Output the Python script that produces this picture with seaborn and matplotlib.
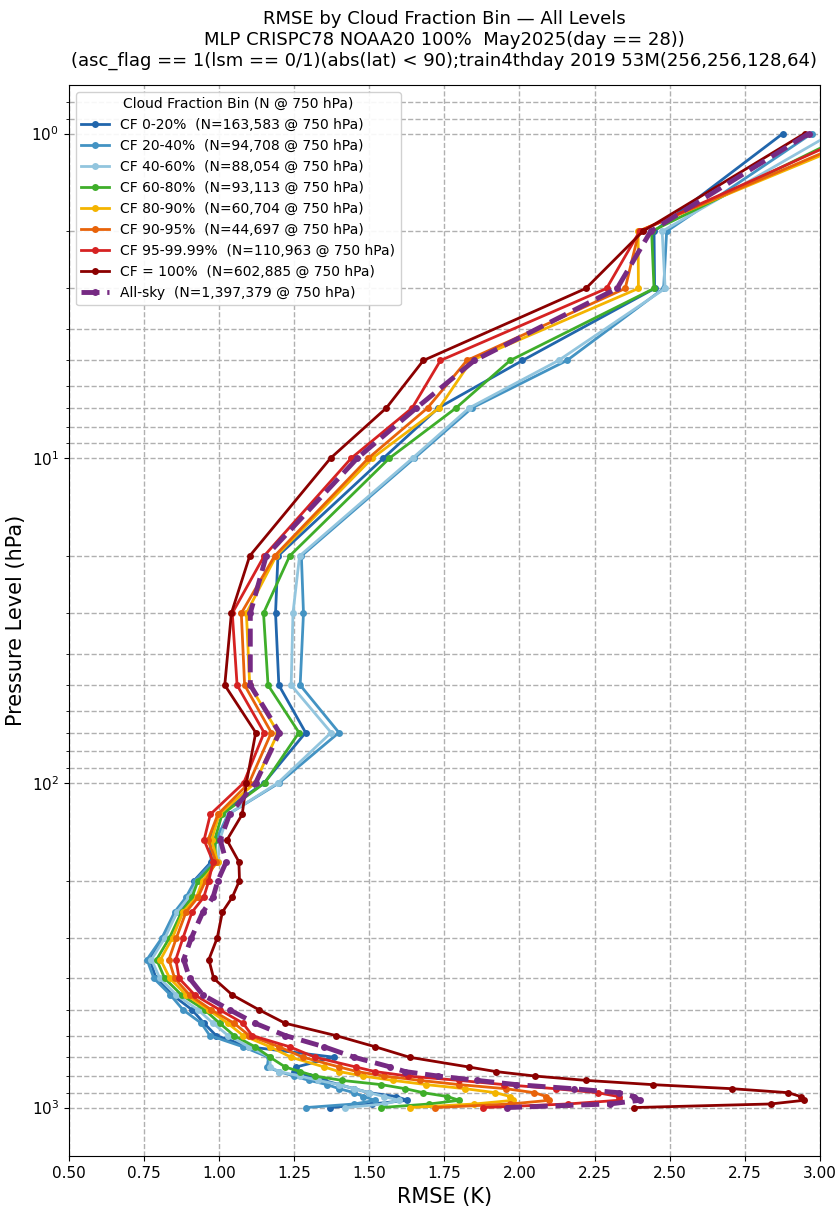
import matplotlib
matplotlib.use("Agg")
import matplotlib.pyplot as plt
import seaborn as sns
import numpy as np

plt.rcParams['font.family'] = ['DejaVu Sans']

pressure = [1, 2, 3, 5, 7, 10, 20, 30, 50, 70, 100, 125, 150, 175, 200, 225, 250,
            300, 350, 400, 450, 500, 550, 600, 650, 700, 750, 775, 800, 825, 850,
            875, 900, 925, 950, 975, 1000]

cf_0_20 = [2.877, 2.448, 2.45, 2.01, 1.73, 1.547, 1.196, 1.188, 1.199, 1.288, 1.15, 1.00, 0.97,
           0.974, 0.917, 0.913, 0.86, 0.813, 0.77, 0.79, 0.845, 0.91, 0.95, 0.99, 1.10, 1.384,
           1.257, 1.25, 1.30, 1.35, 1.40, 1.45, 1.50, 1.59, 1.627, 1.51, 1.37]
cf_20_40 = [2.973, 2.49, 2.48, 2.158, 1.842, 1.65, 1.274, 1.281, 1.27, 1.399, 1.20, 1.03, 0.99,
            0.98, 0.92, 0.89, 0.852, 0.81, 0.76, 0.783, 0.838, 0.88, 0.941, 0.969, 1.08, 1.165,
            1.16, 1.20, 1.25, 1.30, 1.36, 1.40, 1.45, 1.48, 1.52, 1.45, 1.29]
cf_40_60 = [3.04, 2.475, 2.485, 2.13, 1.833, 1.644, 1.268, 1.246, 1.24, 1.373, 1.196, 1.03, 1.002,
            0.996, 0.93, 0.90, 0.86, 0.82, 0.775, 0.803, 0.858, 0.93, 0.98, 1.03, 1.10, 1.17,
            1.17, 1.20, 1.27, 1.33, 1.40, 1.45, 1.50, 1.55, 1.60, 1.55, 1.42]
cf_60_80 = [3.10, 2.44, 2.448, 1.969, 1.789, 1.567, 1.235, 1.148, 1.163, 1.266, 1.152, 1.01, 0.985,
            0.99, 0.93, 0.91, 0.875, 0.835, 0.792, 0.819, 0.875, 0.952, 1.002, 1.05, 1.12, 1.17,
            1.22, 1.27, 1.32, 1.41, 1.54, 1.62, 1.68, 1.76, 1.80, 1.70, 1.54]
cf_80_90 = [3.18, 2.395, 2.396, 1.84, 1.733, 1.51, 1.19, 1.091, 1.102, 1.196, 1.12, 1.00, 0.975,
            0.995, 0.945, 0.925, 0.88, 0.845, 0.805, 0.836, 0.891, 0.965, 1.029, 1.08, 1.17, 1.24,
            1.35, 1.40, 1.48, 1.58, 1.69, 1.82, 1.92, 1.97, 1.98, 1.85, 1.635]
cf_90_95 = [3.16, 2.398, 2.352, 1.825, 1.694, 1.497, 1.185, 1.074, 1.085, 1.174, 1.10, 0.996, 0.963,
            0.99, 0.955, 0.93, 0.89, 0.858, 0.833, 0.852, 0.902, 0.974, 1.05, 1.10, 1.20, 1.28,
            1.40, 1.46, 1.55, 1.67, 1.80, 1.955, 2.05, 2.09, 2.10, 1.97, 1.72]
cf_95_9999 = [3.12, 2.40, 2.29, 1.737, 1.643, 1.44, 1.15, 1.044, 1.06, 1.15, 1.082, 0.971, 0.95,
              0.98, 0.966, 0.949, 0.91, 0.88, 0.856, 0.867, 0.919, 1.002, 1.08, 1.11, 1.235, 1.32,
              1.455, 1.52, 1.63, 1.80, 1.95, 2.12, 2.26, 2.33, 2.33, 2.16, 1.88]
cf_100 = [2.949, 2.411, 2.221, 1.68, 1.557, 1.371, 1.102, 1.041, 1.019, 1.122, 1.091, 1.077, 1.026,
          1.066, 1.068, 1.044, 1.011, 0.994, 0.966, 0.982, 1.044, 1.133, 1.22, 1.388, 1.52, 1.634,
          1.831, 1.922, 2.053, 2.223, 2.443, 2.709, 2.895, 2.936, 2.947, 2.836, 2.382]
all_sky = [2.963, 2.437, 2.325, 1.85, 1.657, 1.46, 1.157, 1.104, 1.104, 1.201, 1.122, 1.035, 1.004,
           1.024, 0.996, 0.980, 0.946, 0.908, 0.882, 0.902, 0.946, 1.035, 1.12, 1.22, 1.35, 1.45,
           1.57, 1.62, 1.73, 1.86, 1.99, 2.18, 2.33, 2.38, 2.40, 2.30, 1.96]

labels = ["CF 0-20%  (N=163,583 @ 750 hPa)",
          "CF 20-40%  (N=94,708 @ 750 hPa)",
          "CF 40-60%  (N=88,054 @ 750 hPa)",
          "CF 60-80%  (N=93,113 @ 750 hPa)",
          "CF 80-90%  (N=60,704 @ 750 hPa)",
          "CF 90-95%  (N=44,697 @ 750 hPa)",
          "CF 95-99.99%  (N=110,963 @ 750 hPa)",
          "CF = 100%  (N=602,885 @ 750 hPa)",
          "All-sky  (N=1,397,379 @ 750 hPa)"]
colors = ["#2166ac", "#4393c3", "#92c5de", "#3fae2a", "#f4b400", "#e8630a",
          "#d62222", "#8b0000", "#762a83"]
series = [cf_0_20, cf_20_40, cf_40_60, cf_60_80, cf_80_90, cf_90_95, cf_95_9999, cf_100, all_sky]
xticks = [0.50, 0.75, 1.00, 1.25, 1.50, 1.75, 2.00, 2.25, 2.50, 2.75, 3.00]

fig, ax = plt.subplots(figsize=(8.4, 12.12), dpi=100)
fig.subplots_adjust(left=0.082, right=0.976, top=0.930, bottom=0.046)

for vals, lab, col in zip(series, labels, colors):
    if lab.startswith("All-sky"):
        sns.lineplot(x=vals, y=pressure, sort=False, estimator=None, ax=ax, color=col,
                     label=lab, linewidth=3.5, linestyle="--", marker="o", markersize=5,
                     markeredgewidth=0, zorder=4)
    else:
        sns.lineplot(x=vals, y=pressure, sort=False, estimator=None, ax=ax, color=col,
                     label=lab, linewidth=2, marker="o", markersize=5,
                     markeredgewidth=0, zorder=3)

ax.set_yscale("log")
ax.invert_yaxis()
ax.set_xlim(0.5, 3.0)
ax.set_xticks(xticks)
ax.set_xticklabels([f"{t:.2f}" for t in xticks], fontsize=11)
ax.tick_params(axis="y", labelsize=11)
ax.grid(True, which="major", axis="x", linestyle="--", color="#b0b0b0", linewidth=1)
ax.grid(True, which="both", axis="y", linestyle="--", color="#b0b0b0", linewidth=1)
ax.set_axisbelow(True)

ax.set_xlabel("RMSE (K)", fontsize=15)
ax.set_ylabel("Pressure Level (hPa)", fontsize=15)
ax.set_title("RMSE by Cloud Fraction Bin — All Levels\n"
             "MLP CRISPC78 NOAA20 100%  May2025(day == 28))\n"
             "(asc_flag == 1(lsm == 0/1)(abs(lat) < 90);train4thday 2019 53M(256,256,128,64)",
             fontsize=13, pad=14)

leg = ax.legend(title="Cloud Fraction Bin (N @ 750 hPa)", loc="upper left",
                fontsize=10, title_fontsize=10, framealpha=0.9)

fig.savefig("out.png", dpi=100)
